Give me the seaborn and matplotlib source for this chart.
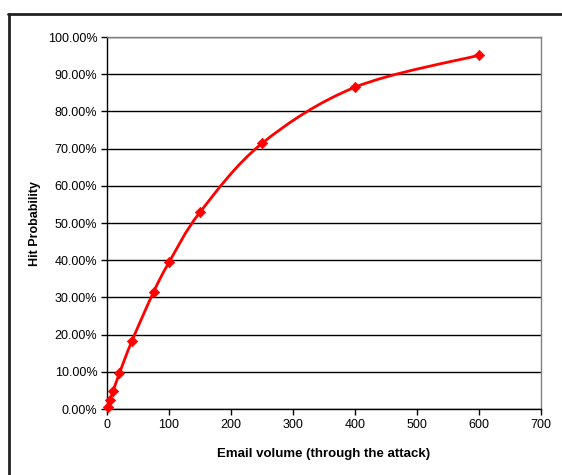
import matplotlib
matplotlib.use("Agg")
import matplotlib.pyplot as plt
import seaborn as sns
import pandas as pd
import numpy as np
from matplotlib.path import Path
from matplotlib.patches import PathPatch
from matplotlib.lines import Line2D
from matplotlib.ticker import FuncFormatter, MultipleLocator

# values
email_volume = [1, 5, 10, 20, 40, 75, 100, 150, 250, 400, 600]
hit_probability = [0.005, 0.025, 0.049, 0.096, 0.182, 0.314, 0.394, 0.529, 0.714, 0.865, 0.951]

df = pd.DataFrame({"volume": email_volume, "prob": hit_probability})

sns.set_style("white")
plt.rcParams["font.family"] = ["Liberation Sans", "DejaVu Sans"]

fig = plt.figure(figsize=(5.62, 4.75), dpi=100)
ax = fig.add_axes([107 / 562, 1 - 409 / 475, (541 - 107) / 562, (409 - 37) / 475])

# smoothed line (Excel style bezier through the points)
pts = df[["volume", "prob"]].to_numpy(dtype=float)
verts = [tuple(pts[0])]
codes = [Path.MOVETO]
n = len(pts)
for i in range(n - 1):
    p0 = pts[i - 1] if i > 0 else pts[i]
    p1 = pts[i]
    p2 = pts[i + 1]
    p3 = pts[i + 2] if i + 2 < n else pts[i + 1]
    c1 = p1 + (p2 - p0) / 6.0
    c2 = p2 - (p3 - p1) / 6.0
    verts += [tuple(c1), tuple(c2), tuple(p2)]
    codes += [Path.CURVE4] * 3
ax.add_patch(PathPatch(Path(verts, codes), facecolor="none", edgecolor="#ff0000", lw=2, zorder=3))

sns.scatterplot(data=df, x="volume", y="prob", marker="D", s=28, color="#ff0000",
                edgecolor="#ff0000", linewidth=0.5, ax=ax, zorder=4, clip_on=False)

ax.set_xlim(0, 700)
ax.set_ylim(0, 1.0)
ax.xaxis.set_major_locator(MultipleLocator(100))
ax.yaxis.set_major_locator(MultipleLocator(0.1))
ax.yaxis.set_major_formatter(FuncFormatter(lambda v, p: f"{v * 100:.2f}%"))

ax.grid(axis="y", color="black", lw=1)
ax.set_axisbelow(True)
for side in ["left", "bottom"]:
    ax.spines[side].set_color("black")
    ax.spines[side].set_linewidth(1)
for side in ["top", "right"]:
    ax.spines[side].set_color("#808080")
    ax.spines[side].set_linewidth(1)

ax.tick_params(axis="both", which="major", direction="out", length=4, width=1,
               color="black", labelcolor="black", labelsize=9, pad=3, left=True, bottom=True)

ax.set_xlabel("Email volume (through the attack)", fontsize=9.5, fontweight="bold",
              color="black", labelpad=12.5)
ax.set_ylabel("Hit Probability", fontsize=9, fontweight="bold", color="black", labelpad=5)

# chart frame (only top and left edges visible)
fig.add_artist(Line2D([8 / 562, 1], [1 - 13.5 / 475, 1 - 13.5 / 475], color="#222222", lw=2))
fig.add_artist(Line2D([8.5 / 562, 8.5 / 562], [0, 1 - 13.5 / 475], color="#222222", lw=2))

fig.savefig("out.png", dpi=100)
